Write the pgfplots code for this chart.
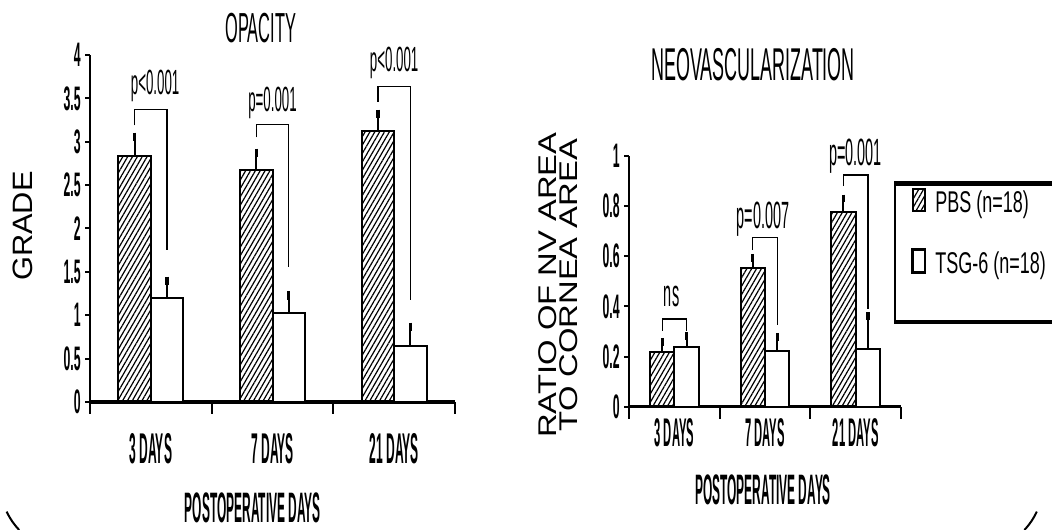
\documentclass[border=0pt]{standalone}
\usepackage{pgfplots}
\pgfplotsset{compat=1.18}
\usetikzlibrary{patterns.meta}
\usepackage{fontspec}
\setmainfont{Liberation Sans}
\newfontfamily\xc[FakeStretch=0.28]{Liberation Sans Bold}
\newfontfamily\yc[FakeStretch=0.36]{Liberation Sans Bold}
\newfontfamily\tc[FakeStretch=0.39]{Liberation Sans}
\newfontfamily\pc[FakeStretch=0.38]{Liberation Sans}
\newfontfamily\lc[FakeStretch=0.6]{Liberation Sans}
\newfontfamily\wa[FakeStretch=1.1]{Liberation Sans}
\newfontfamily\wb[FakeStretch=1.28]{Liberation Sans}

\pgfplotsset{
  panel/.style={
    scale only axis,
    clip=false,
    xmin=-0.5, xmax=2.5, ymin=0,
    axis x line=bottom, axis y line=left,
    axis line style={-},
    x axis line style={line width=1.6pt},
    y axis line style={line width=1pt},
    xtick={0,1,2},
    xticklabels={3 DAYS,7 DAYS,21 DAYS},
    minor xtick={-0.5,0.5,1.5,2.5},
    major x tick style={draw=none},
    minor x tick style={line width=1pt, black},
    major y tick style={line width=1pt, black},
    tick align=outside,
    major tick length=2.5pt,
    minor tick length=6pt,
    /pgf/number format/assume math mode=true,
    yticklabel style={font=\yc\fontsize{17}{17}\selectfont, inner sep=0pt, xshift=-2pt},
  },
  errs/.style={
    error bars/y dir=plus, error bars/y explicit,
    error bars/error bar style={line width=1pt, black},
    error bars/error mark options={black, mark size=#1, line width=1.6pt}},
  pbs/.style={ybar, bar shift=0, bar width=0.267, draw=black, line width=1pt,
    pattern={Lines[angle=60,distance=2.1pt,line width=0.6pt]}, pattern color=black},
  tsg/.style={ybar, bar shift=0, bar width=0.267, draw=black, line width=1pt, fill=white},
  brk/.style={black, line width=0.6pt, forget plot, no marks},
  myleg/.style={legend image code/.code={\draw[##1, line width=#1] (0pt,-4.2pt) rectangle (6.3pt,7.1pt);}},
}

\begin{document}
\begin{tikzpicture}
\path[use as bounding box] (0,0) rectangle (526pt,264.5pt);

% ---------------- OPACITY ----------------
\begin{axis}[panel,
  at={(45pt,63.5pt)}, anchor=south west,
  width=182.5pt, height=173.5pt,
  ymax=4,
  ytick={0,0.5,1,1.5,2,2.5,3,3.5,4},
  xticklabel style={font=\xc\fontsize{21.5}{21.5}\selectfont, inner sep=0pt, anchor=north, yshift=-13pt},
  every axis title/.style={at={(axis description cs:0.468,1.077)}, anchor=center, font=\tc\fontsize{21}{21}\selectfont},
  title={OPACITY},
  every axis x label/.style={at={(axis description cs:0.446,-0.305)}, anchor=center, font=\xc\fontsize{21.3}{21.3}\selectfont},
  xlabel={POSTOPERATIVE DAYS},
  every axis y label/.style={at={(axis description cs:-0.183,0.507)}, rotate=90, anchor=center, font=\wa\fontsize{14}{14}\selectfont},
  ylabel={GRADE},
]
% PBS bars (x = category - 0.1335)
\addplot[pbs, errs=2.2pt] table[x=x, y=m, y error=e] {
x m e
-0.1335 2.84 0.215
0.8665 2.67 0.20
1.8665 3.12 0.20
};
% TSG-6 bars (x = category + 0.1335)
\addplot[tsg, errs=2.2pt] table[x=x, y=m, y error=e] {
x m e
0.1335 1.20 0.195
1.1335 1.03 0.20
2.1335 0.65 0.215
};
\addplot[brk] coordinates {(-0.1335,3.19) (-0.1335,3.37) (0.1335,3.37) (0.1335,1.75)};
\addplot[brk] coordinates {(0.8665,3.05) (0.8665,3.20) (1.1335,3.20) (1.1335,1.56)};
\addplot[brk] coordinates {(1.8665,3.46) (1.8665,3.64) (2.1335,3.64) (2.1335,1.18)};
\node[anchor=base, inner sep=0pt, font=\pc\fontsize{17.5}{17.5}\selectfont] at (axis cs:0.035,3.54) {p<0.001};
\node[anchor=base, inner sep=0pt, font=\pc\fontsize{17.5}{17.5}\selectfont] at (axis cs:1.0,3.35) {p=0.001};
\node[anchor=base, inner sep=0pt, font=\pc\fontsize{17.5}{17.5}\selectfont] at (axis cs:2.0,3.81) {p<0.001};
\end{axis}

% ---------------- NEOVASCULARIZATION ----------------
\begin{axis}[panel,
  at={(314.5pt,61.15pt)}, anchor=south west,
  width=136pt, height=125.35pt,
  ymax=1,
  ytick={0,0.2,0.4,0.6,0.8,1},
  xticklabel style={font=\xc\fontsize{20}{20}\selectfont, inner sep=0pt, anchor=north, yshift=-3pt},
  every axis title/.style={at={(axis description cs:0.456,1.363)}, anchor=center, font=\tc\fontsize{23}{23}\selectfont},
  title={NEOVASCULARIZATION},
  every axis x label/.style={at={(axis description cs:0.493,-0.332)}, anchor=center, font=\xc\fontsize{21.3}{21.3}\selectfont},
  xlabel={POSTOPERATIVE DAYS},
  every axis y label/.style={at={(axis description cs:-0.261,0.485)}, rotate=90, anchor=center, align=center, font=\wb\fontsize{12.8}{10.8}\selectfont},
  ylabel={RATIO OF NV AREA\\TO CORNEA AREA},
  legend style={at={(axis description cs:1.036,0.875)}, anchor=north west, draw=none, fill=none,
    inner sep=0pt, row sep=15.5pt, font=\lc\fontsize{15}{15}\selectfont,
    nodes={inner sep=1pt},
    /tikz/every odd column/.append style={column sep=3.5pt}},
  legend cell align=left,
]
\addplot[pbs, errs=1.9pt, myleg=1pt]
  table[x=x, y=m, y error=e] {
x m e
-0.135 0.219 0.040
0.865 0.552 0.042
1.865 0.778 0.053
};
\addlegendentry{PBS (n=18)}
\addplot[tsg, errs=1.9pt, myleg=1.3pt]
  table[x=x, y=m, y error=e] {
x m e
0.135 0.239 0.043
1.135 0.222 0.057
2.135 0.229 0.133
};
\addlegendentry{TSG-6 (n=18)}
\addplot[brk] coordinates {(-0.135,0.303) (-0.135,0.35) (0.135,0.35) (0.135,0.303)};
\addplot[brk] coordinates {(0.865,0.625) (0.865,0.674) (1.135,0.674) (1.135,0.326)};
\addplot[brk] coordinates {(1.865,0.88) (1.865,0.924) (2.135,0.924) (2.135,0.389)};
\node[anchor=base, inner sep=0pt, font=\pc\fontsize{19}{19}\selectfont] at (axis cs:-0.03,0.399) {ns};
\node[anchor=base, inner sep=0pt, font=\pc\fontsize{19}{19}\selectfont] at (axis cs:0.98,0.711) {p=0.007};
\node[anchor=base, inner sep=0pt, font=\pc\fontsize{19}{19}\selectfont] at (axis cs:2.0,0.964) {p=0.001};
\end{axis}

% legend frame (extends past the page edge, as in the scan)
\draw[line width=1pt] (447.5pt,172.5pt) -- (447.5pt,103.5pt);
\draw[line width=2.5pt] (447pt,172.5pt) -- (530pt,172.5pt);
\draw[line width=2pt] (447pt,103.5pt) -- (530pt,103.5pt);
% scan edge arcs
\draw[line width=1pt] (3.3pt,8.7pt) to[bend right=8] (9.6pt,-0.5pt);
\draw[line width=1pt] (518.4pt,8.7pt) to[bend left=8] (512.2pt,-0.5pt);
\end{tikzpicture}
\end{document}
